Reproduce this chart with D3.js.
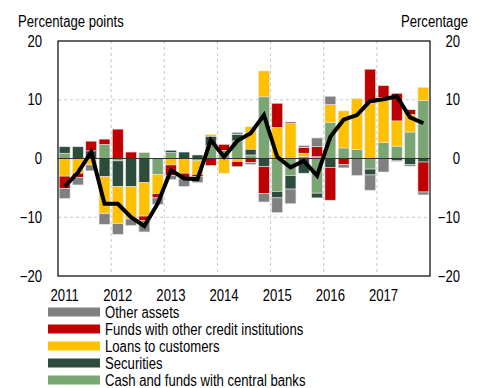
<!DOCTYPE html>
<html>
<head>
<meta charset="utf-8">
<script src="https://cdn.jsdelivr.net/npm/d3@7"></script>
<style>
	body { margin: 0; background: #fff; }
	text { font-family: "Liberation Sans", Arial, sans-serif; font-size: 16px; fill: #000; }
</style>
</head>
<body>
<div id="plot"></div>
<script>
// quarterly contributions 2011Q1 - 2017Q4, percentage points

var quarters = d3.range(28);
var years = ["2011", "2012", "2013", "2014", "2015", "2016", "2017"];
var yTicks = [-20, -10, 0, 10, 20];

var cash = [0.9, 0, 0, 2.4, -0.4, 0, 1.0, -2.7, 1.0, 0, -0.4, 2.2, 1.4, 3.0,
	0.6, 10.5, -5.6, -2.9, 0.3, -5.9, 6.1, 1.8, 1.5, -1.8, 2.7, 2.1, 4.5, 9.9];
var securities = [1.1, 2.0, 1.3, -3.1, -4.4, -4.8, -4.1, 0, 0.4, 1.1, 0.6, 1.6, 0, 1.1,
	1.0, -1.4, -1.1, -2.3, -2.5, -0.8, -1.5, 0, 0, -1.0, 0, -0.4, -1.0, -0.6];
var loans = [-3.0, -2.5, -1.1, -6.3, -6.3, -5.5, -5.7, -3.3, -1.1, -2.5, -2.3, 0.3, -2.5, -0.5,
	3.8, 4.4, 5.3, 6.0, 0.6, 0.3, 3.1, 6.3, 8.7, 9.4, 7.7, 4.3, 3.0, 2.2];
var funds = [-2.1, -0.7, 1.65, 0.9, 5.0, 1.1, -0.8, -0.7, -1.8, -0.85, -0.4, -1.2, 1.0, -0.9,
	-0.7, -4.6, 4.1, 0.2, 1.0, 1.7, -5.6, -1.0, 0, 5.8, 2.0, 4.7, 0.8, -5.1];
var other = [-1.7, -1.3, -1.0, -1.8, -1.8, -1.1, -1.9, -1.1, -0.7, -1.4, -1.0, 0, 0, 0.35,
	-0.3, -1.4, -2.5, -2.5, 0.3, 1.5, 1.4, -0.6, -2.9, -2.6, -2.3, -0.1, -0.3, -0.5];
var total = [-4.8, -2.4, 1.1, -7.7, -7.7, -10.0, -11.5, -7.7, -2.0, -3.4, -3.5, 3.1, 0.3, 3.0,
	4.3, 7.4, 0.3, -1.5, -0.4, -2.9, 3.7, 6.6, 7.4, 9.8, 10.1, 10.6, 7.0, 6.0];

var keys = ["cash", "securities", "loans", "funds", "other"];
var legendNames = ["Other assets", "Funds with other credit institutions", "Loans to customers",
	"Securities", "Cash and funds with central banks"];
var legendKeys = ["other", "funds", "loans", "securities", "cash"];

onload = function init() {
	var table = quarters.map(function (i) {
		return { q: i, cash: cash[i], securities: securities[i], loans: loans[i], funds: funds[i], other: other[i], total: total[i] };
	});
	drawChart(table);
}

//narrow type: squeeze the text horizontally like a condensed face
function place(x, y) {
	return "translate(" + x + "," + y + ") scale(0.82,1)";
}

function drawChart(dataset) {

	var W = 480, H = 388;
	var left = 58, right = 430, top = 41, bottom = 276;

	var svg = d3.select("#plot")
		.append("svg")
		.attr("width", W)
		.attr("height", H);

	var xScale = d3.scaleBand()
		.domain(quarters)
		.range([left, right])
		.paddingInner(0.18)
		.paddingOuter(0.09);

	var yScale = d3.scaleLinear()
		.domain([-20, 20])
		.range([bottom, top]);

	var colours = d3.scaleOrdinal()
		.domain(keys)
		.range(["#7aa673", "#2c4c3c", "#ffc000", "#c00000", "#808080"]);

	var step = (right - left) / quarters.length;

	//dashed grid: year boundaries and +/-10
	svg.append("g")
		.selectAll("line")
		.data(d3.range(1, years.length))
		.enter().append("line")
		.attr("x1", function (d) { return left + d * 4 * step; })
		.attr("x2", function (d) { return left + d * 4 * step; })
		.attr("y1", top)
		.attr("y2", bottom)
		.attr("stroke", "#c8c8c8")
		.attr("stroke-dasharray", "3,3");

	svg.append("g")
		.selectAll("line")
		.data([-10, 10])
		.enter().append("line")
		.attr("x1", left)
		.attr("x2", right)
		.attr("y1", function (d) { return yScale(d); })
		.attr("y2", function (d) { return yScale(d); })
		.attr("stroke", "#c8c8c8")
		.attr("stroke-dasharray", "3,3");

	//stacked bars, positives and negatives stacked away from zero
	var series = d3.stack()
		.keys(keys)
		.offset(d3.stackOffsetDiverging)(dataset);

	svg.append("g")
		.selectAll("g")
		.data(series)
		.enter().append("g")
		.attr("fill", function (d) { return colours(d.key); })
		.selectAll("rect")
		.data(function (d) { return d; })
		.enter().append("rect")
		.attr("x", function (d) { return xScale(d.data.q); })
		.attr("y", function (d) { return yScale(Math.max(d[0], d[1])); })
		.attr("height", function (d) { return Math.abs(yScale(d[0]) - yScale(d[1])); })
		.attr("width", xScale.bandwidth())
		.attr("stroke", "#e4e4e4")
		.attr("stroke-width", 0.6);

	//zero line
	svg.append("line")
		.attr("x1", left)
		.attr("x2", right)
		.attr("y1", yScale(0))
		.attr("y2", yScale(0))
		.attr("stroke", "#333")
		.attr("stroke-width", 1.2);

	//total line
	var line = d3.line()
		.x(function (d) { return xScale(d.q) + xScale.bandwidth() / 2; })
		.y(function (d) { return yScale(d.total); });

	svg.append("path")
		.datum(dataset)
		.attr("d", line)
		.attr("fill", "none")
		.attr("stroke", "#000")
		.attr("stroke-width", 4)
		.attr("stroke-linejoin", "miter");

	//frame
	svg.append("rect")
		.attr("x", left)
		.attr("y", top)
		.attr("width", right - left)
		.attr("height", bottom - top)
		.attr("fill", "none")
		.attr("stroke", "#000")
		.attr("stroke-width", 1.2);

	//y tick labels both sides
	var fmt = function (d) { return d < 0 ? "\u2212" + Math.abs(d) : d; };

	svg.append("g")
		.selectAll("text")
		.data(yTicks)
		.enter().append("text")
		.attr("transform", function (d) { return place(42, yScale(d)); })
		.attr("dy", "0.35em")
		.attr("text-anchor", "end")
		.text(fmt);

	svg.append("g")
		.selectAll("text")
		.data(yTicks)
		.enter().append("text")
		.attr("transform", function (d) { return place(460, yScale(d)); })
		.attr("dy", "0.35em")
		.attr("text-anchor", "end")
		.text(fmt);

	svg.append("text")
		.attr("transform", place(18, 27))
		.text("Percentage points");

	svg.append("text")
		.attr("transform", place(468, 27))
		.attr("text-anchor", "end")
		.text("Percentage");

	//year labels under the first quarter of each year
	svg.append("g")
		.selectAll("text")
		.data(years)
		.enter().append("text")
		.attr("transform", function (d, i) { return place(xScale(i * 4) + xScale.bandwidth() / 2, 301); })
		.attr("text-anchor", "middle")
		.text(function (d) { return d; });

	//legend
	var legend = svg.append("g")
		.selectAll("g")
		.data(legendKeys)
		.enter().append("g")
		.attr("transform", function (d, i) { return "translate(48," + (312 + i * 17) + ")"; });

	legend.append("rect")
		.attr("x", 0)
		.attr("y", -4.5)
		.attr("width", 52)
		.attr("height", 9)
		.attr("fill", function (d) { return colours(d); });

	legend.append("text")
		.attr("transform", place(57, 0))
		.attr("dy", "0.35em")
		.text(function (d, i) { return legendNames[i]; });
}
</script>
</body>
</html>
